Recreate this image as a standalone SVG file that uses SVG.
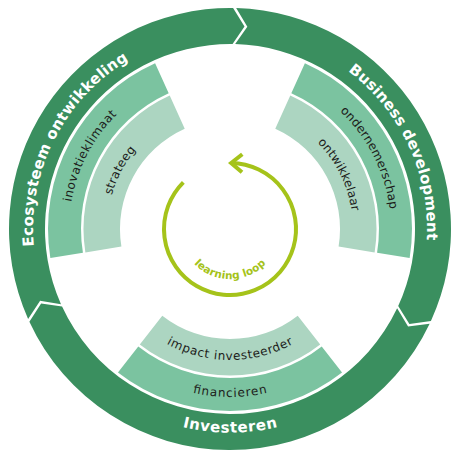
<svg xmlns="http://www.w3.org/2000/svg" width="460" height="460" viewBox="0 0 460 460">
<style>
.ring{fill:#3a8f5f}
.b1{fill:#7bc3a0}
.b2{fill:#acd5c1}
.rl{font-family:"DejaVu Sans","Liberation Sans",sans-serif;font-weight:700;font-size:15px;fill:#ffffff}
.bl{font-family:"DejaVu Sans","Liberation Sans",sans-serif;font-size:12px;fill:#1d1d1b}
.ll{font-family:"DejaVu Sans","Liberation Sans",sans-serif;font-weight:700;font-size:10.5px;fill:#a5c31a}
.loop{fill:none;stroke:#a5c31a;stroke-width:4}
</style>
<defs>
<path id="p-eco" d="M 44.88 296.38 A 197 197 0 0 1 175.70 39.63"/>
<path id="p-bus" d="M 284.30 39.63 A 197 197 0 0 1 409.97 309.13"/>
<path id="p-inv" d="M 86.46 373.54 A 204 204 0 0 0 373.54 373.54"/>
<path id="p-ino" d="M 78.71 284.07 A 161 161 0 0 1 188.33 73.49"/>
<path id="p-str" d="M 114.42 271.07 A 123 123 0 0 1 200.24 109.65"/>
<path id="p-ond" d="M 271.67 73.49 A 161 161 0 0 1 380.31 286.70"/>
<path id="p-ont" d="M 261.83 110.19 A 123 123 0 0 1 344.04 275.08"/>
<path id="p-fin" d="M 111.21 347.79 A 168 168 0 0 0 348.79 347.79"/>
<path id="p-imp" d="M 137.37 321.63 A 131 131 0 0 0 322.63 321.63"/>
<path id="p-ll" d="M 194.64 264.36 A 50 50 0 0 0 265.36 264.36"/>
<marker id="chev" markerUnits="userSpaceOnUse" viewBox="-16 -16 32 32" markerWidth="32" markerHeight="32" refX="0" refY="0" orient="auto">
<path d="M -11 -9 L 0 0 L -11 9" fill="none" stroke="#a5c31a" stroke-width="4"/>
</marker>
</defs>
<rect x="0" y="0" width="460" height="460" fill="#ffffff"/>

<g id="ecosysteem">
<path class="ring" d="M 28.11 318.89 A 221 221 0 0 1 233.09 8.02 L 244.51 26.52 L 232.58 44.02 A 185 185 0 0 0 60.99 304.25 L 40.11 300.75 Z"/>
<path class="b1" d="M 50.34 258.10 A 182 182 0 0 1 155.11 63.13 L 168.69 93.20 A 149 149 0 0 0 82.92 252.82 Z"/>
<path class="b2" d="M 85.38 252.42 A 146.5 146.5 0 0 1 169.71 95.48 L 184.73 128.75 A 110 110 0 0 0 121.41 246.59 Z"/>
<text class="rl" text-anchor="middle"><textPath href="#p-eco" startOffset="50%" textLength="220" lengthAdjust="spacing">Ecosysteem ontwikkeling</textPath></text>
<text class="bl" text-anchor="middle"><textPath href="#p-ino" startOffset="50%" textLength="100" lengthAdjust="spacing">inovatieklimaat</textPath></text>
<text class="bl" text-anchor="middle"><textPath href="#p-str" startOffset="50%" textLength="52" lengthAdjust="spacing">strateeg</textPath></text>
</g>

<g id="business">
<path class="ring" d="M 236.17 8.09 A 221 221 0 0 1 430.94 321.00 L 409.41 323.99 L 398.21 306.01 A 185 185 0 0 0 235.17 44.07 L 247.34 26.74 Z"/>
<path class="b1" d="M 304.89 63.13 A 182 182 0 0 1 409.66 258.10 L 377.08 252.82 A 149 149 0 0 0 291.31 93.20 Z"/>
<path class="b2" d="M 290.29 95.48 A 146.5 146.5 0 0 1 374.62 252.42 L 338.59 246.59 A 110 110 0 0 0 275.27 128.75 Z"/>
<text class="rl" text-anchor="middle"><textPath href="#p-bus" startOffset="50%" textLength="194" lengthAdjust="spacing">Business development</textPath></text>
<text class="bl" text-anchor="middle"><textPath href="#p-ond" startOffset="50%" textLength="112" lengthAdjust="spacing">ondernemerschap</textPath></text>
<text class="bl" text-anchor="middle"><textPath href="#p-ont" startOffset="50%" textLength="78" lengthAdjust="spacing">ontwikkelaar</textPath></text>
</g>

<g id="investeren">
<path class="ring" d="M 429.64 323.80 A 221 221 0 0 1 29.38 321.70 L 41.12 303.40 L 62.06 306.60 A 185 185 0 0 0 397.12 308.35 L 408.06 326.48 Z"/>
<path class="b1" d="M 342.05 372.42 A 182 182 0 0 1 117.95 372.42 L 138.27 346.41 A 149 149 0 0 0 321.73 346.41 Z"/>
<path class="b2" d="M 320.19 344.44 A 146.5 146.5 0 0 1 139.81 344.44 L 162.28 315.68 A 110 110 0 0 0 297.72 315.68 Z"/>
<text class="rl" text-anchor="middle"><textPath href="#p-inv" startOffset="50%" textLength="96" lengthAdjust="spacing">Investeren</textPath></text>
<text class="bl" text-anchor="middle"><textPath href="#p-fin" startOffset="50%" textLength="75" lengthAdjust="spacing">financieren</textPath></text>
<text class="bl" text-anchor="middle"><textPath href="#p-imp" startOffset="50%" textLength="132" lengthAdjust="spacing">impact investeerder</textPath></text>
</g>

<g id="connectors">
<path class="loop" d="M 183.33 182.33 A 66 66 0 1 0 231.15 163.01" marker-end="url(#chev)"/>
</g>

<g id="learning-loop">
<text class="ll" text-anchor="middle"><textPath href="#p-ll" startOffset="50%" textLength="80" lengthAdjust="spacing">learning loop</textPath></text>
</g>
</svg>
